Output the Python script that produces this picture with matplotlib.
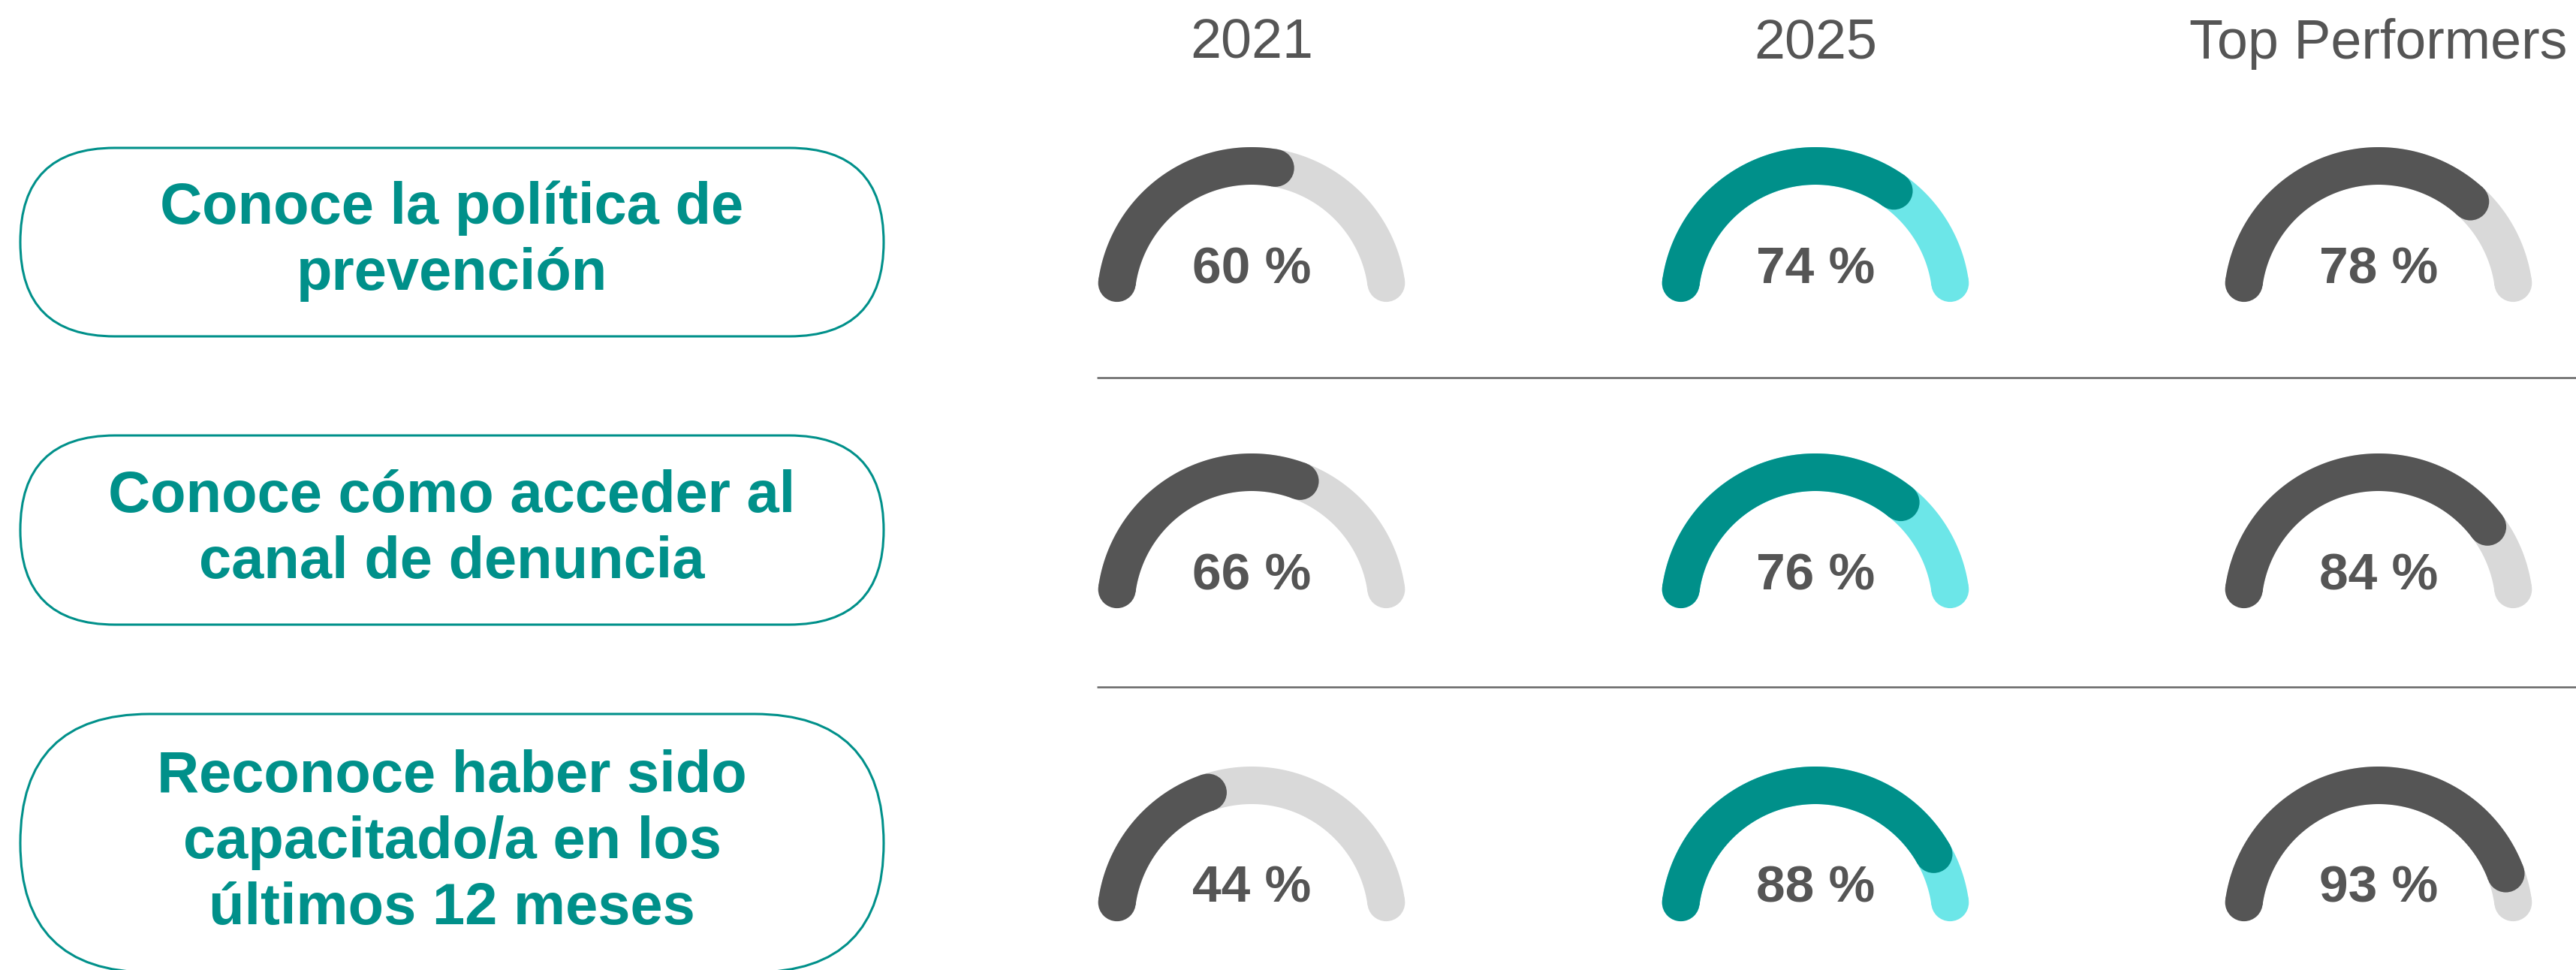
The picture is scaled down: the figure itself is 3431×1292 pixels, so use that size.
import numpy as np
import matplotlib
matplotlib.use("Agg")
import matplotlib.pyplot as plt
from matplotlib.patches import Polygon, Circle, FancyBboxPatch

# ---------------- data ----------------
columns = ["2021", "2025", "Top Performers"]
row_labels = [
    ["Conoce la política de", "prevención"],
    ["Conoce cómo acceder al", "canal de denuncia"],
    ["Reconoce haber sido", "capacitado/a en los", "últimos 12 meses"],
]
values_2021 = [60, 66, 44]
values_2025 = [74, 76, 88]
values_top = [78, 84, 93]
series = [values_2021, values_2025, values_top]

# ---------------- style / layout ----------------
W, H = 3431, 1292
DPI = 100
DARK = "#555555"
TRACK = "#d9d9d9"
TEAL = "#00908a"
CYAN = "#6ce6e8"
fill_colors = [DARK, TEAL, DARK]
track_colors = [TRACK, CYAN, TRACK]

col_x = [1667, 2418, 3168]
row_y = [402, 810, 1227]
R = 181.0      # centerline radius
TH = 50.0      # thickness
boxes = [(197, 448), (580, 832), (951, 1295)]
box_x0, box_x1 = 27, 1177

plt.rcParams["font.family"] = ["Liberation Sans", "DejaVu Sans"]

fig = plt.figure(figsize=(W / DPI, H / DPI), dpi=DPI)
ax = fig.add_axes([0, 0, 1, 1])
ax.set_xlim(0, W)
ax.set_ylim(H, 0)
ax.axis("off")


def arc_band(cx, cy, a0, a1, color, z):
    """Band along the circle from visual angle a0 to a1 (degrees), rounded ends."""
    delta = np.degrees((TH / 2) / R)
    s, e = a0 - delta, a1 + delta
    if s > e:
        t = np.radians(np.linspace(s, e, 200))
        ro, ri = R + TH / 2, R - TH / 2
        outer = np.column_stack([cx + ro * np.cos(t), cy - ro * np.sin(t)])
        inner = np.column_stack([cx + ri * np.cos(t[::-1]), cy - ri * np.sin(t[::-1])])
        ax.add_patch(Polygon(np.vstack([outer, inner]), closed=True, fc=color,
                             ec="none", zorder=z))
    else:
        s = e = (a0 + a1) / 2
    for a in (s, e):
        ar = np.radians(a)
        ax.add_patch(Circle((cx + R * np.cos(ar), cy - R * np.sin(ar)), TH / 2,
                            fc=color, ec="none", zorder=z))


# headers
for cx, name in zip(col_x, columns):
    ax.text(cx, 78, name, ha="center", va="baseline", fontsize=53,
            color=DARK)

# label boxes
for (y0, y1), lines in zip(boxes, row_labels):
    h = y1 - y0
    ax.add_patch(FancyBboxPatch((box_x0, y0), box_x1 - box_x0, h,
                                boxstyle=f"round,pad=0,rounding_size={h/2}",
                                fc="white", ec=TEAL, lw=2.2, zorder=2))
    cyb = (y0 + y1) / 2
    n = len(lines)
    for i, line in enumerate(lines):
        yb = cyb + (i - (n - 1) / 2) * 88 + 20
        ax.text((box_x0 + box_x1) / 2, yb, line, ha="center", va="baseline",
                fontsize=56, fontweight="bold", color=TEAL, zorder=3)

# separators
for y in (503, 915):
    ax.plot([1461, W], [y, y], color="#666666", lw=1.8, solid_capstyle="butt")

# gauges
for ci, (cx, vals) in enumerate(zip(col_x, series)):
    for ri, (cy, v) in enumerate(zip(row_y, vals)):
        arc_band(cx, cy, 180, 0, track_colors[ci], 4)
        arc_band(cx, cy, 180, 180 - 180 * v / 100, fill_colors[ci], 5)
        ax.text(cx, cy - 25, f"{v} %", ha="center", va="baseline",
                fontsize=50, fontweight="bold", color=DARK, zorder=6)

fig.savefig("out.png", dpi=DPI, facecolor="white")
